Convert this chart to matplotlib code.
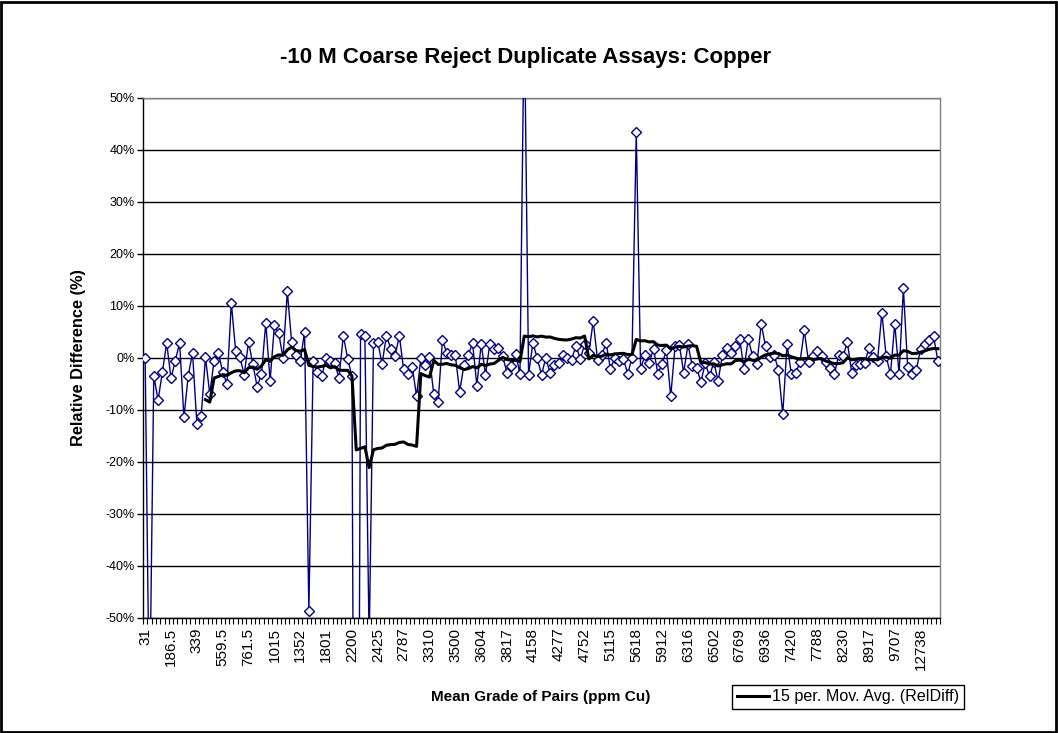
import numpy as np
import pandas as pd
import matplotlib
matplotlib.use("Agg")
from matplotlib import pyplot as plt
from matplotlib.patches import Rectangle

plt.rcParams["font.family"] = ["Liberation Sans", "DejaVu Sans"]

# x-axis category labels (every 6th pair)
tick_labels = ["31", "186.5", "339", "559.5", "761.5", "1015", "1352", "1801",
               "2200", "2425", "2787", "3310", "3500", "3604", "3817", "4158",
               "4277", "4752", "5115", "5618", "5912", "6316", "6502", "6769",
               "6936", "7420", "7788", "8230", "8917", "9707", "12738"]

# relative difference of each duplicate pair, % (sorted by mean grade)
rel_diff = [
    0.0, -70.0, -3.4, -8.1, -2.7, 2.9, -3.9, -0.5, 2.9, -11.4,
    -3.4, 1.0, -12.6, -11.2, 0.1, -6.9, -0.5, 1.0, -2.7, -5.0,
    10.6, 1.4, 0.1, -3.2, 3.1, -1.2, -5.5, -3.1, 6.8, -4.4,
    6.3, 4.8, 0.0, 12.8, 3.1, 0.6, -0.6, 5.0, -48.7, -0.6,
    -2.6, -3.5, 0.0, -0.6, -1.0, -3.8, 4.3, -0.1, -3.5, -210.0,
    4.7, 4.3, -55.0, 2.8, 3.0, -1.1, 4.3, 1.8, 0.3, 4.3,
    -2.2, -3.0, -1.8, -7.3, 0.0, -1.3, 0.1, -7.0, -8.5, 3.4,
    1.0, 0.5, 0.5, -6.5, -1.3, 0.5, 2.9, -5.3, 2.7, -3.2,
    2.7, 1.8, 1.9, 0.3, -2.9, -1.5, 0.8, -3.1, 67.0, -3.2,
    2.9, 0.0, -3.2, 0.0, -2.9, -1.3, -1.0, 0.5, 0.0, -0.3,
    2.4, -0.2, 2.6, 1.0, 7.1, -0.3, 0.6, 2.9, -2.1, 0.0,
    -0.6, -0.2, -3.0, 0.0, 43.5, -2.1, 0.5, -1.0, 1.8, -3.0,
    -1.1, 1.5, -7.4, 2.3, 2.5, -2.8, 2.6, -1.6, -1.9, -4.6,
    -1.0, -3.5, -0.8, -4.4, 0.6, 1.9, 1.0, 2.3, 3.7, -2.1,
    3.7, 0.3, -1.2, 6.5, 2.3, 0.1, 0.6, -2.3, -10.8, 2.6,
    -3.1, -2.9, -0.8, 5.3, -0.8, 0.3, 1.3, 0.3, -0.8, -1.9,
    -3.1, 0.6, 0.3, 3.1, -2.9, -1.4, -1.2, -1.0, 1.9, 0.1,
    -0.5, 8.7, 0.3, -3.1, 6.6, -3.1, 13.4, -1.8, -3.1, -2.3,
    1.8, 2.7, 3.5, 4.2, -0.5,
]

n = len(rel_diff)
x = np.arange(n)
moving_avg = pd.Series(rel_diff).rolling(window=15).mean()

W, H = 1058, 733
fig = plt.figure(figsize=(W / 100, H / 100), dpi=100)
fig.patches.append(Rectangle((1 / W, 1 / H), 1 - 3 / W, 1 - 3 / H, transform=fig.transFigure,
                             fill=False, edgecolor="black", linewidth=2))

ax = fig.add_axes([143 / W, 1 - 618 / H, 797 / W, 520 / H])
ax.plot(x, rel_diff, color="#000080", linewidth=1, marker="D", markersize=5.5,
        markerfacecolor="white", markeredgecolor="#000080", markeredgewidth=1, zorder=3)
ax.plot(x, moving_avg, color="black", linewidth=2.2, zorder=4,
        label="15 per. Mov. Avg. (RelDiff)")

ax.set_xlim(-0.5, n - 0.5)
ax.set_ylim(-50, 50)
ax.set_yticks(np.arange(-50, 51, 10))
ax.set_yticklabels([f"{v}%" for v in range(-50, 51, 10)], fontsize=9)
ax.yaxis.grid(True, color="black", linewidth=1)
ax.set_axisbelow(True)

ax.set_xticks(np.arange(0, n, 6))
ax.set_xticklabels(tick_labels, rotation=90, fontsize=11)
ax.set_xticks(np.arange(-0.5, n, 1), minor=True)
ax.tick_params(axis="x", which="major", length=0, pad=7)
ax.tick_params(axis="x", which="minor", length=4, width=0.8, direction="out")
ax.tick_params(axis="y", length=4, width=1, direction="out", pad=2)

for side in ["left", "bottom"]:
    ax.spines[side].set_color("black")
    ax.spines[side].set_linewidth(1)
for side in ["top", "right"]:
    ax.spines[side].set_color("#808080")
    ax.spines[side].set_linewidth(1)

fig.text(526 / W, 1 - 58 / H, "-10 M Coarse Reject Duplicate Assays: Copper",
         ha="center", va="center", fontsize=16, fontweight="bold")
fig.text(79 / W, 1 - 358 / H, "Relative Difference (%)", rotation=90,
         ha="center", va="center", fontsize=11.8, fontweight="bold")
fig.text(541 / W, 1 - 697 / H, "Mean Grade of Pairs (ppm Cu)",
         ha="center", va="center", fontsize=11, fontweight="bold")

leg = fig.legend(loc="center", bbox_to_anchor=(848 / W, 1 - 697 / H), fontsize=11.6,
                 frameon=True, fancybox=False, edgecolor="black", framealpha=1,
                 handlelength=2.0, handletextpad=0.15, borderpad=0.3,
                 borderaxespad=0)
leg.get_frame().set_linewidth(1)

fig.savefig("out.png", dpi=100)
